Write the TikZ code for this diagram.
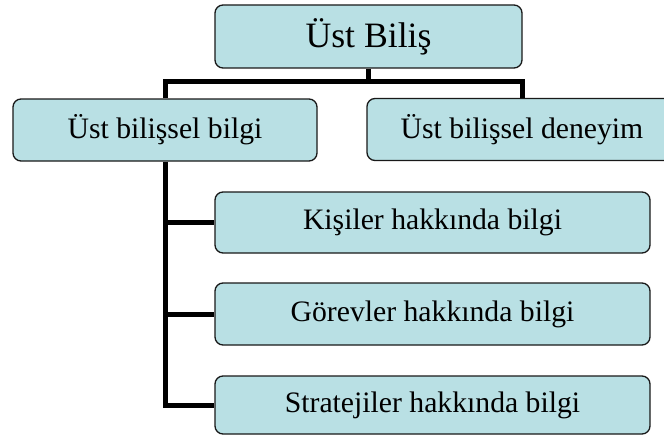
\documentclass[tikz,border=0pt]{standalone}
\usepackage{fontspec}
\setmainfont{Liberation Serif}
\definecolor{boxfill}{RGB}{185,224,228}
\definecolor{boxline}{RGB}{25,25,25}
\begin{document}
\begin{tikzpicture}[x=1pt,y=-1pt,
  tbox/.style={draw=boxline,line width=1.3pt,fill=boxfill,rounded corners=8pt,inner sep=0pt,align=center,font=\fontsize{29.7}{32}\selectfont},
  conn/.style={line width=5pt,line join=miter,black}]
\useasboundingbox (0,0) rectangle (664,436);
\node[tbox,minimum width=307pt,minimum height=63pt,font=\fontsize{35.7}{40}\selectfont] (top) at (368.5,36.5) {Üst Biliş};
\node[tbox,minimum width=304pt,minimum height=62pt] (left) at (165,130) {Üst bilişsel bilgi};
\node[tbox,minimum width=310pt,minimum height=62pt] (right) at (522,129.5) {Üst bilişsel deneyim};
\node[tbox,minimum width=435pt,minimum height=61pt] (kis) at (432.5,222.5) {Kişiler hakkında bilgi};
\node[tbox,minimum width=435pt,minimum height=62pt] (gor) at (432.5,314) {Görevler hakkında bilgi};
\node[tbox,minimum width=435pt,minimum height=58pt] (str) at (432.5,405) {Stratejiler hakkında bilgi};
\coordinate (bus) at (368.5,82);
\draw[conn] (top.south) -- (bus);
\draw[conn] (left.north) |- (bus) -| (right.north);
\draw[conn] (left.south) |- (str.west);
\draw[conn] (left.south |- kis.west) -- (kis.west);
\draw[conn] (left.south |- gor.west) -- (gor.west);
\end{tikzpicture}
\end{document}
